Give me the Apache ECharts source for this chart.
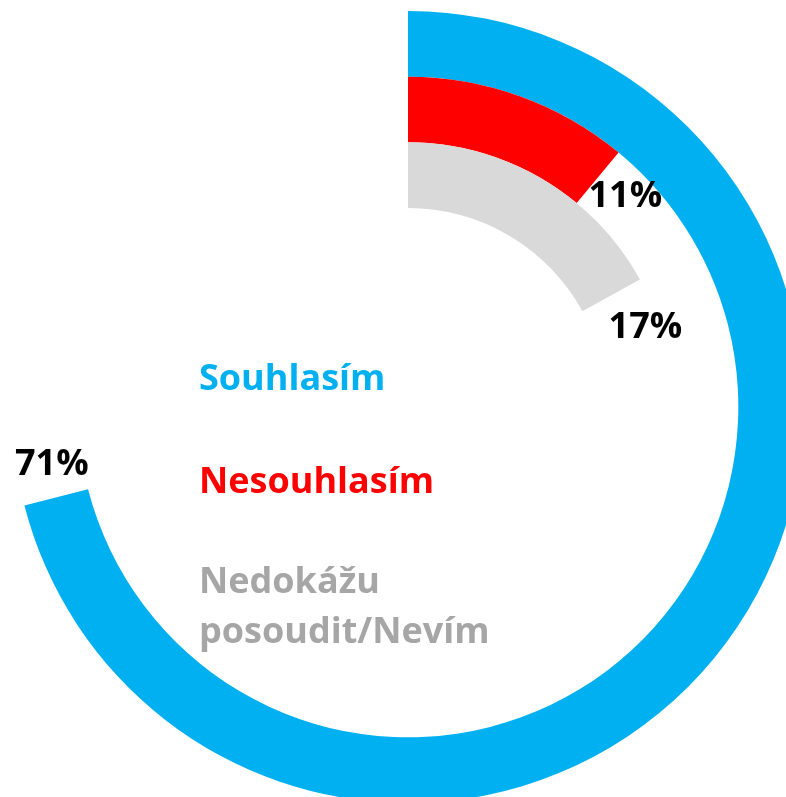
<!DOCTYPE html>
<html>
<head>
<meta charset="utf-8">
<script src="https://cdn.jsdelivr.net/npm/echarts@6/dist/echarts.min.js"></script>
<style>
  html, body { margin: 0; padding: 0; background: #fff; }
  #chart { width: 786px; height: 797px; }
</style>
</head>
<body>
<div id="chart"></div>
<script>
// rings, inner to outer
const categories = ["Nedokážu posoudit/Nevím", "Nesouhlasím", "Souhlasím"];
const souhlasim = ["-", "-", 71];
const nesouhlasim = ["-", 11, "-"];
const nevim = [17, "-", "-"];
const colors = ["#00B0F0", "#FF0000", "#D9D9D9"];
const legendColors = ["#00B0F0", "#FF0000", "#A6A6A6"];

const font = "Open Sans";
const chart = echarts.init(document.getElementById("chart"));

function ring(name, data, color, offset) {
  return {
    name: name,
    type: "bar",
    coordinateSystem: "polar",
    data: data,
    barGap: "-100%",
    barCategoryGap: "0%",
    itemStyle: { color: color },
    label: {
      show: true,
      position: "end",
      rotate: 0,
      offset: offset,
      formatter: "{c}%",
      color: "#000",
      fontSize: 36,
      fontWeight: "bold",
      fontFamily: font,
    },
    animation: false,
  };
}

function legendItem(name, color, top, fmt) {
  return {
    data: [name],
    orient: "vertical",
    left: 189,
    top: top,
    icon: "none",
    itemWidth: 0,
    itemHeight: 0,
    formatter: fmt,
    selectedMode: false,
    textStyle: {
      color: color,
      fontSize: 36,
      fontWeight: "bold",
      fontFamily: font,
      lineHeight: 50,
    },
  };
}

const option = {
  animation: false,
  polar: {
    center: [408, 407],
    radius: [199, 396],
  },
  angleAxis: {
    type: "value",
    min: 0,
    max: 100,
    startAngle: 90,
    clockwise: true,
    show: false,
  },
  radiusAxis: {
    type: "category",
    data: categories,
    show: false,
  },
  legend: [
    legendItem("Souhlasím", legendColors[0], 350),
    legendItem("Nesouhlasím", legendColors[1], 453),
    legendItem("Nedokážu posoudit/Nevím", legendColors[2], 553, function () {
      return "Nedokážu\nposoudit/Nevím";
    }),
  ],
  series: [
    ring("Souhlasím", souhlasim, colors[0], [-40, -28]),
    ring("Nesouhlasím", nesouhlasim, colors[1], [-13, 16]),
    ring("Nedokážu posoudit/Nevím", nevim, colors[2], [-5, 28]),
  ],
};
chart.setOption(option);
</script>
</body>
</html>
